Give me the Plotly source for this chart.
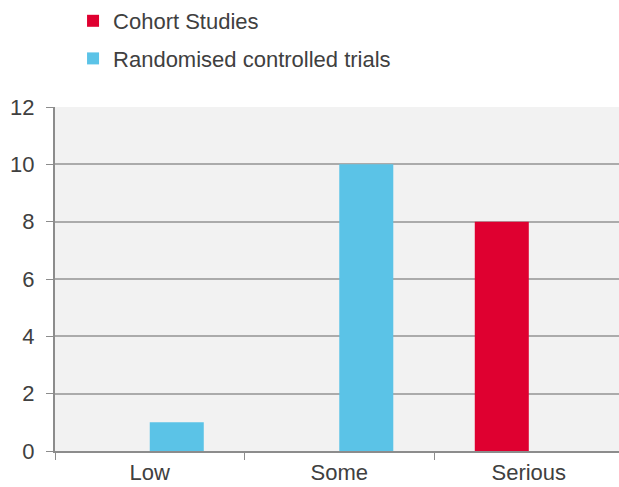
import plotly.graph_objects as go

categories = ["Low", "Some", "Serious"]
cohort_studies = [0, 0, 8]
randomised_trials = [1, 10, 0]

RED = "#df0030"
BLUE = "#5bc3e7"
GRID = "#ababab"
TEXT = "#404040"

fig = go.Figure()
fig.add_trace(go.Bar(
    name="Cohort Studies", x=categories, y=cohort_studies,
    marker=dict(color=RED, line=dict(width=0)), legendgroup="a",
))
fig.add_trace(go.Bar(
    name="Randomised controlled trials", x=categories, y=randomised_trials,
    marker=dict(color=BLUE, line=dict(width=0)), legendgroup="b",
))

fig.update_layout(
    width=619, height=487,
    margin=dict(l=55, r=0, t=107, b=36, autoexpand=False),
    paper_bgcolor="white",
    plot_bgcolor="#f2f2f2",
    barmode="group",
    bargap=0.43,
    bargroupgap=0,
    font=dict(family="Liberation Sans, Arial, sans-serif", size=22, color=TEXT),
    legend=dict(
        x=0.118, y=1.002, xref="container", yref="container",
        xanchor="left", yanchor="top",
        orientation="v", traceorder="grouped",
        tracegroupgap=6,
        font=dict(size=22, color=TEXT),
        bgcolor="rgba(0,0,0,0)",
    ),
    showlegend=True,
)

fig.update_xaxes(
    type="category",
    range=[-0.5, 2.476],
    tickson="boundaries",
    ticks="outside", ticklen=7, tickcolor="#8c8c8c", tickwidth=1,
    showline=True, linecolor="#8c8c8c", linewidth=2,
    showgrid=False,
    ticklabelstandoff=1,
    tickfont=dict(size=22, color=TEXT),
)
fig.update_yaxes(
    range=[0, 12], dtick=2,
    ticks="outside", ticklen=7, tickcolor="#8c8c8c", tickwidth=1,
    showline=True, linecolor="#8c8c8c", linewidth=2,
    showgrid=True, gridcolor=GRID, gridwidth=1.5,
    zeroline=False,
    ticklabelstandoff=7,
    tickfont=dict(size=22, color=TEXT),
)

fig.write_html("out.html")
